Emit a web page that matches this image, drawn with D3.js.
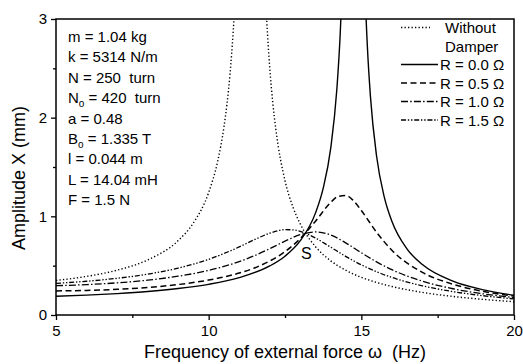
<!DOCTYPE html>
<html>
<head>
<meta charset="utf-8">
<script src="https://cdn.jsdelivr.net/npm/d3@7"></script>
<style>
  body { margin: 0; background: #fff; }
  text { font-family: "Liberation Sans", Arial, sans-serif; fill: #000; white-space: pre; }
</style>
</head>
<body>
<div id="chart"></div>
<script>
var svgWidth = 523;
var svgHeight = 364;

var margin = {
  top: 19,
  right: 9,
  bottom: 49,
  left: 56
};

var width = svgWidth - margin.left - margin.right;
var height = svgHeight - margin.top - margin.bottom;

// data (frequency in Hz, amplitude in mm)
var freqNone = [5, 6, 7, 8, 9, 9.5, 10, 10.3, 10.5, 10.6, 10.7, 10.75, 10.85, 10.9, 11,
  11.8, 11.9, 11.95, 12, 12.1, 12.2, 12.5, 12.75, 13, 13.5, 14, 14.5, 15, 15.5, 16, 17, 18, 19, 20];
var ampNone = [0.350, 0.391, 0.454, 0.558, 0.754, 0.933, 1.242, 1.565, 1.905, 2.140, 2.446, 2.635, 3.12, 3.44, 4.34,
  3.72, 3.0, 2.732, 2.507, 2.151, 1.882, 1.362, 1.103, 0.923, 0.692, 0.549, 0.452, 0.382, 0.330, 0.289, 0.229, 0.188, 0.158, 0.135];

var freqR00 = [5, 6, 7, 8, 9, 10, 11, 12, 12.5, 13, 13.5, 13.75, 14, 14.2, 14.3, 14.35, 14.5,
  15, 15.1, 15.2, 15.3, 15.5, 15.75, 16, 16.5, 17, 18, 19, 20];
var ampR00 = [0.190, 0.201, 0.217, 0.238, 0.268, 0.311, 0.378, 0.497, 0.596, 0.753, 1.035, 1.283, 1.696, 2.296, 2.798, 3.143, 5.0,
  4.90, 3.49, 2.708, 2.208, 1.609, 1.197, 0.950, 0.668, 0.511, 0.343, 0.255, 0.200];

var freqR05 = [5, 6, 7, 8, 9, 10, 10.5, 11, 11.5, 12, 12.5, 13, 13.5, 14, 14.25, 14.5, 14.75, 15, 15.5, 16, 17, 18, 19, 20];
var ampR05 = [0.244, 0.249, 0.260, 0.279, 0.309, 0.354, 0.385, 0.425, 0.477, 0.547, 0.642, 0.774, 0.951, 1.142, 1.203, 1.210, 1.156, 1.059, 0.838, 0.656, 0.432, 0.312, 0.239, 0.192];

var freqR10 = [5, 6, 7, 8, 9, 10, 10.5, 11, 11.5, 12, 12.5, 13, 13.5, 14, 14.5, 15, 15.5, 16, 17, 18, 19, 20];
var ampR10 = [0.297, 0.308, 0.326, 0.353, 0.393, 0.452, 0.492, 0.541, 0.601, 0.672, 0.748, 0.814, 0.842, 0.810, 0.729, 0.631, 0.538, 0.459, 0.343, 0.266, 0.214, 0.176];

var freqR15 = [5, 6, 7, 8, 9, 10, 10.5, 11, 11.5, 12, 12.5, 12.75, 13, 13.5, 14, 14.5, 15, 15.5, 16, 17, 18, 19, 20];
var ampR15 = [0.321, 0.342, 0.372, 0.414, 0.475, 0.564, 0.623, 0.690, 0.764, 0.829, 0.865, 0.863, 0.848, 0.780, 0.687, 0.592, 0.509, 0.439, 0.381, 0.296, 0.237, 0.195, 0.163];

var xTicks = [5, 10, 15, 20];
var xMinorTicks = [7.5, 12.5, 17.5];
var yTicks = [0, 1, 2, 3];
var yMinorTicks = [0.5, 1.5, 2.5];

var legendLabels = ["Without", "R = 0.0 \u03a9", "R = 0.5 \u03a9", "R = 1.0 \u03a9", "R = 1.5 \u03a9"];

// parameter box: [main, subscript, rest]
var paramLabels = [
  ["m = 1.04 kg", "", ""],
  ["k = 5314 N/m", "", ""],
  ["N = 250  turn", "", ""],
  ["N", "o", " = 420  turn"],
  ["a = 0.48", "", ""],
  ["B", "o", " = 1.335 T"],
  ["l = 0.044 m", "", ""],
  ["L = 14.04 mH", "", ""],
  ["F = 1.5 N", "", ""]
];

var series = [
  { x: freqNone, y: ampNone, dash: "1.3,2.2", w: 1.4 },
  { x: freqR00, y: ampR00, dash: null, w: 1.4 },
  { x: freqR05, y: ampR05, dash: "6,3.5", w: 1.5 },
  { x: freqR10, y: ampR10, dash: "7,2.2,1.5,2.2", w: 1.3 },
  { x: freqR15, y: ampR15, dash: "5,1.8,1.4,1.8,1.4,1.8", w: 1.3 }
];

var svg = d3.select("#chart")
  .append("svg")
  .attr("width", svgWidth)
  .attr("height", svgHeight);

var chartGroup = svg.append("g")
  .attr("transform", `translate(${margin.left}, ${margin.top})`);

var xScale = d3.scaleLinear().domain([5, 20]).range([0, width]);
var yScale = d3.scaleLinear().domain([0, 3]).range([height, 0]);

svg.append("defs").append("clipPath")
  .attr("id", "plotClip")
  .append("rect")
  .attr("width", width)
  .attr("height", height);

// axes
var bottomAxis = d3.axisBottom(xScale).tickValues(xTicks).tickSize(5).tickPadding(5).tickFormat(d3.format("d"));
var bottomMinor = d3.axisBottom(xScale).tickValues(xMinorTicks).tickSize(3).tickFormat("");
var leftAxis = d3.axisLeft(yScale).tickValues(yTicks).tickSize(5).tickPadding(4).tickFormat(d3.format("d"));
var leftMinor = d3.axisLeft(yScale).tickValues(yMinorTicks).tickSize(3).tickFormat("");

chartGroup.append("g").attr("transform", `translate(0, ${height})`).call(bottomMinor);
chartGroup.append("g").call(leftMinor);
chartGroup.append("g").attr("transform", `translate(0, ${height})`).call(bottomAxis);
chartGroup.append("g").call(leftAxis);

chartGroup.selectAll(".domain").remove();
chartGroup.selectAll(".tick line").attr("stroke", "#000").attr("stroke-width", 1.3);
chartGroup.selectAll(".tick text")
  .style("font-family", "Liberation Sans, Arial, sans-serif")
  .style("font-size", "15px")
  .attr("fill", "#000");

// frame
chartGroup.append("rect")
  .attr("width", width)
  .attr("height", height)
  .attr("fill", "none")
  .attr("stroke", "#000")
  .attr("stroke-width", 1.5);

// curves
var line = d3.line()
  .x(d => xScale(d[0]))
  .y(d => yScale(d[1]))
  .curve(d3.curveMonotoneX);

var curvesGroup = chartGroup.append("g").attr("clip-path", "url(#plotClip)");
series.forEach(function(s) {
  curvesGroup.append("path")
    .datum(d3.zip(s.x, s.y))
    .attr("d", line)
    .attr("fill", "none")
    .attr("stroke", "#000")
    .attr("stroke-width", s.w)
    .attr("stroke-dasharray", s.dash);
});

// S point label
chartGroup.append("text")
  .attr("x", xScale(13.2))
  .attr("y", yScale(0.57))
  .attr("text-anchor", "middle")
  .style("font-size", "16px")
  .text("S");

// parameter text box
var paramText = chartGroup.selectAll(".param")
  .data(paramLabels)
  .enter()
  .append("text")
  .attr("class", "param")
  .attr("x", 12)
  .attr("y", (d, i) => 23 + i * 20.4)
  .style("font-size", "15px");
paramText.append("tspan").text(d => d[0]);
paramText.filter(d => d[1] !== "").append("tspan")
  .attr("dy", 4)
  .style("font-size", "10px")
  .text(d => d[1]);
paramText.filter(d => d[2] !== "").append("tspan")
  .attr("dy", -4)
  .text(d => d[2]);

// legend (row centres in chart coordinates)
var legendX = 345;
var legendRows = [8.5, 45.5, 64, 82.5, 101];
var legend = chartGroup.append("g");
legend.append("text")
  .attr("x", legendX + 44).attr("y", legendRows[0] + 5.5)
  .style("font-size", "15px")
  .text(legendLabels[0]);
legend.append("text")
  .attr("x", legendX + 44).attr("y", legendRows[0] + 18.5 + 5.5)
  .style("font-size", "15px")
  .text("Damper");
legend.append("line")
  .attr("x1", legendX).attr("x2", legendX + 29)
  .attr("y1", legendRows[0]).attr("y2", legendRows[0])
  .attr("stroke", "#000").attr("stroke-width", series[0].w)
  .attr("stroke-dasharray", series[0].dash);
for (var i = 1; i < legendLabels.length; i++) {
  legend.append("line")
    .attr("x1", legendX).attr("x2", legendX + 37)
    .attr("y1", legendRows[i]).attr("y2", legendRows[i])
    .attr("stroke", "#000").attr("stroke-width", series[i].w)
    .attr("stroke-dasharray", series[i].dash);
  legend.append("text")
    .attr("x", legendX + 39)
    .attr("y", legendRows[i] + 5.5)
    .style("font-size", "15px")
    .text(legendLabels[i]);
}

// axis titles
chartGroup.append("text")
  .attr("x", width / 2)
  .attr("y", height + 43)
  .attr("text-anchor", "middle")
  .style("font-size", "18px")
  .text("Frequency of external force \u03c9  (Hz)");

chartGroup.append("text")
  .attr("transform", `translate(${25 - margin.left}, ${178 - margin.top}) rotate(-90)`)
  .attr("text-anchor", "middle")
  .style("font-size", "18px")
  .text("Amplitude X (mm)");
</script>
</body>
</html>
